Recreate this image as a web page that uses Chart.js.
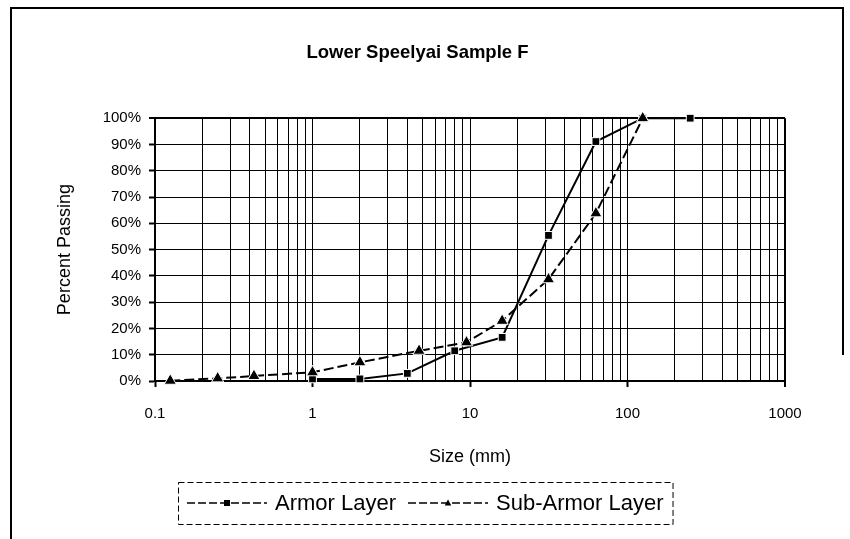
<!DOCTYPE html>
<html>
<head>
<meta charset="utf-8">
<title>Lower Speelyai Sample F</title>
<script src="https://cdn.jsdelivr.net/npm/chart.js@4.4.0/dist/chart.umd.min.js"></script>
<style>
  html, body { margin: 0; padding: 0; background: #fff; }
  #wrap { width: 850px; height: 539px; }
</style>
</head>
<body>
<div id="wrap"><canvas id="gradation" width="850" height="539"></canvas></div>
<script>
// sieve size (mm) and percent passing
const armorSize = [1, 2, 4, 8, 16, 31.5, 63, 125, 250];
const armorPassing = [0.8, 0.8, 2.9, 11.5, 16.6, 55.4, 91.1, 100, 100];
const subArmorSize = [0.125, 0.25, 0.425, 1, 2, 4.75, 9.5, 16, 31.5, 63, 125];
const subArmorPassing = [0.1, 1, 1.9, 3.3, 7.1, 11.5, 14.7, 22.9, 38.7, 63.8, 100];

// axis ticks
const sizeLabels = [0.1, 1, 10, 100, 1000];
const percentTicks = [0, 10, 20, 30, 40, 50, 60, 70, 80, 90, 100];

const FONT = "'Liberation Sans', Arial, sans-serif";

// every 1..9 step of each decade gets a grid line, only decades get a label
const sizeGrid = [];
for (let i = 0; i < sizeLabels.length - 1; i++) {
  for (let k = 1; k < 10; k++) sizeGrid.push(+(k * sizeLabels[i]).toPrecision(6));
}
sizeGrid.push(sizeLabels[sizeLabels.length - 1]);

const isMajor = v => sizeLabels.some(m => Math.abs(m - v) < 1e-9);

function toPoints(xs, ys) {
  return xs.map((x, i) => ({ x: x, y: ys[i] }));
}

// white page + the partly cut frame round the chart
const framePlugin = {
  id: 'frame',
  beforeDraw(chart) {
    const ctx = chart.ctx;
    ctx.save();
    ctx.fillStyle = '#fff';
    ctx.fillRect(0, 0, chart.width, chart.height);
    ctx.strokeStyle = '#000';
    ctx.lineWidth = 2;
    ctx.beginPath();
    ctx.moveTo(11, 539);
    ctx.lineTo(11, 8);
    ctx.lineTo(843, 8);
    ctx.lineTo(843, 355);
    ctx.stroke();
    ctx.restore();
  }
};

function drawMarker(ctx, style, x, y, r) {
  ctx.beginPath();
  if (style === 'rect') {
    ctx.rect(x - r, y - r, 2 * r, 2 * r);
  } else {
    ctx.moveTo(x, y - r * 1.2);
    ctx.lineTo(x + r * 1.1, y + r * 0.8);
    ctx.lineTo(x - r * 1.1, y + r * 0.8);
    ctx.closePath();
  }
  ctx.fill();
}

// legend in a dashed box below the axis title
const boxLegend = {
  id: 'boxLegend',
  afterDraw(chart) {
    const ctx = chart.ctx;
    ctx.save();
    ctx.font = '22px ' + FONT;
    const seg = 80, gap = 8, itemGap = 12, padX = 9;
    const items = chart.data.datasets.map(ds => ({ ds: ds, w: ctx.measureText(ds.label).width }));
    let total = padX * 2 + itemGap * (items.length - 1);
    items.forEach(it => { total += seg + gap + it.w; });
    let x = Math.round(425 - total / 2);
    const top = 482, h = 42, cy = top + h / 2;

    ctx.strokeStyle = '#000';
    ctx.fillStyle = '#000';
    ctx.lineWidth = 1;
    ctx.setLineDash([6, 3]);
    ctx.strokeRect(x + 0.5, top + 0.5, total, h);

    x += padX;
    items.forEach(it => {
      ctx.lineWidth = 1.5;
      ctx.setLineDash([8, 3]);
      ctx.beginPath();
      ctx.moveTo(x, cy);
      ctx.lineTo(x + seg, cy);
      ctx.stroke();
      ctx.setLineDash([]);
      drawMarker(ctx, it.ds.pointStyle, x + seg / 2, cy, 3);
      x += seg + gap;
      ctx.textAlign = 'left';
      ctx.textBaseline = 'middle';
      ctx.fillText(it.ds.label, x, cy + 1);
      x += it.w + itemGap;
    });
    ctx.restore();
  }
};

const chart = new Chart(document.getElementById('gradation').getContext('2d'), {
  type: 'scatter',
  data: {
    datasets: [
      {
        label: 'Armor Layer',
        data: toPoints(armorSize, armorPassing),
        order: 1,
        showLine: true,
        clip: false,
        borderColor: '#000',
        backgroundColor: '#000',
        borderWidth: 2,
        pointStyle: 'rect',
        pointRadius: 5.5,
        pointBorderColor: '#fff',
        pointBorderWidth: 1,
      },
      {
        label: 'Sub-Armor Layer',
        data: toPoints(subArmorSize, subArmorPassing),
        order: 0,
        showLine: true,
        clip: false,
        borderColor: '#000',
        backgroundColor: '#000',
        borderWidth: 2,
        borderDash: [10, 4],
        pointStyle: 'triangle',
        pointRadius: 7,
        pointBorderColor: '#fff',
        pointBorderWidth: 1,
      },
    ],
  },
  options: {
    responsive: false,
    animation: false,
    devicePixelRatio: 1,
    layout: { padding: { left: 50, right: 65, top: 42, bottom: 0 } },
    plugins: {
      legend: { display: false },
      tooltip: { enabled: false },
      title: {
        display: true,
        text: 'Lower Speelyai Sample F',
        color: '#000',
        font: { family: FONT, size: 18.5, weight: 'bold' },
        padding: { top: 0, bottom: 54 },
      },
    },
    scales: {
      x: {
        type: 'logarithmic',
        min: 0.1,
        max: 1000,
        afterBuildTicks: scale => { scale.ticks = sizeGrid.map(v => ({ value: v })); },
        afterFit: scale => { scale.height = 158; },
        border: { display: true, color: '#000', width: 2 },
        grid: {
          color: '#000',
          lineWidth: ctx => (ctx.tick && ctx.tick.value === 1000 ? 2 : 1),
          tickColor: ctx => (ctx.tick && isMajor(ctx.tick.value) ? '#000' : 'rgba(0,0,0,0)'),
          tickLength: 6,
          tickWidth: 2,
        },
        ticks: {
          autoSkip: false,
          maxRotation: 0,
          padding: 18,
          color: '#000',
          font: { family: FONT, size: 15 },
          callback: v => (isMajor(v) ? String(v) : ''),
        },
        title: {
          display: true,
          text: 'Size (mm)',
          color: '#000',
          font: { family: FONT, size: 18 },
          padding: { top: 4, bottom: 71 },
        },
      },
      y: {
        min: 0,
        max: 100,
        afterBuildTicks: scale => { scale.ticks = percentTicks.map(v => ({ value: v })); },
        afterFit: scale => { scale.width = 105; },
        border: { display: true, color: '#000', width: 2 },
        grid: {
          color: '#000',
          lineWidth: ctx => (ctx.tick && ctx.tick.value === 100 ? 2 : 1),
          tickColor: '#000',
          tickLength: 6,
          tickWidth: 2,
        },
        ticks: {
          padding: 8,
          color: '#000',
          font: { family: FONT, size: 15 },
          callback: v => v + '%',
        },
        title: {
          display: true,
          text: 'Percent Passing',
          color: '#000',
          font: { family: FONT, size: 18 },
          padding: { top: 4, bottom: 4 },
        },
      },
    },
  },
  plugins: [framePlugin, boxLegend],
});
</script>
</body>
</html>
